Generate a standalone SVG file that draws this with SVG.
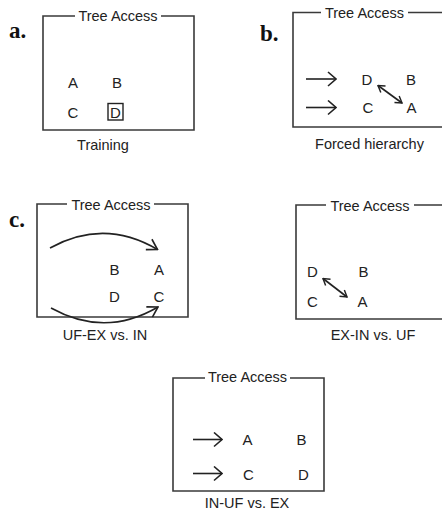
<svg xmlns="http://www.w3.org/2000/svg" width="442" height="516" viewBox="0 0 442 516">
<defs>
<style>
.frame{fill:none;stroke:#3a3a3a;stroke-width:1.6}
.conn{fill:none;stroke:#222;stroke-width:1.6}
.title{font-family:"Liberation Sans",Arial,sans-serif;font-size:14.5px;fill:#222;text-anchor:middle}
.lab{font-family:"Liberation Sans",Arial,sans-serif;font-size:15px;fill:#222;text-anchor:middle}
.cap{font-family:"Liberation Sans",Arial,sans-serif;font-size:14.5px;fill:#222;text-anchor:middle}
.pl{font-family:"Liberation Serif","Times New Roman",serif;font-size:23px;font-weight:bold;fill:#111}
</style>
<marker id="big" viewBox="0 0 10 16" refX="9" refY="8" markerWidth="10" markerHeight="16" markerUnits="userSpaceOnUse" orient="auto">
<path d="M1,1 L9,8 L1,15" fill="none" stroke="#222" stroke-width="1.6"/>
</marker>
<marker id="sm" viewBox="0 0 10 12" refX="9" refY="6" markerWidth="8" markerHeight="10" markerUnits="userSpaceOnUse" orient="auto-start-reverse">
<path d="M1,1 L9,6 L1,11" fill="none" stroke="#222" stroke-width="1.8"/>
</marker>
<marker id="arc" viewBox="0 0 12 14" refX="11" refY="7" markerWidth="12" markerHeight="14" markerUnits="userSpaceOnUse" orient="auto">
<path d="M1,1 L11,7 L1,13" fill="none" stroke="#222" stroke-width="1.6"/>
</marker>
</defs>
<rect width="442" height="516" fill="#fff"/>

<g id="panel-a">
<text class="pl" x="9" y="38">a.</text>
<path class="frame" d="M75,16 H43 V130 H194 V16 H161"/>
<text class="title" x="118" y="21">Tree Access</text>
<text class="lab" x="73" y="88">A</text>
<text class="lab" x="117" y="88">B</text>
<text class="lab" x="73" y="118">C</text>
<text class="lab" x="115.5" y="118">D</text>
<rect x="108" y="103.5" width="15" height="16.5" fill="none" stroke="#222" stroke-width="1.4"/>
<text class="cap" x="103" y="150">Training</text>
</g>

<g id="panel-b">
<text class="pl" x="260" y="41">b.</text>
<path class="frame" d="M321,12.5 H293 V127 H443 M408,12.5 H443"/>
<text class="title" x="364.5" y="17.5">Tree Access</text>
<text class="lab" x="367" y="85">D</text>
<text class="lab" x="411" y="85">B</text>
<text class="lab" x="368" y="113">C</text>
<text class="lab" x="411.5" y="113">A</text>
<text class="cap" x="369.5" y="149">Forced hierarchy</text>
</g>

<g id="panel-c-left">
<text class="pl" x="9" y="227">c.</text>
<path class="frame" d="M67,204 H37 V317 H188 V204 H154"/>
<text class="title" x="111" y="209.5">Tree Access</text>
<text class="lab" x="114.5" y="274.5">B</text>
<text class="lab" x="159" y="274.5">A</text>
<text class="lab" x="114.5" y="302">D</text>
<text class="lab" x="159" y="302">C</text>
<text class="cap" x="105" y="339.5">UF-EX vs. IN</text>
</g>

<g id="panel-c-right">
<path class="frame" d="M326,205 H296 V319 H443 M414,205 H443"/>
<text class="title" x="370" y="211">Tree Access</text>
<text class="lab" x="312.5" y="277">D</text>
<text class="lab" x="363.5" y="277">B</text>
<text class="lab" x="312.5" y="307">C</text>
<text class="lab" x="362.5" y="307">A</text>
<text class="cap" x="373" y="339.5">EX-IN vs. UF</text>
</g>

<g id="panel-bottom">
<path class="frame" d="M205,378 H173 V491 H324 V378 H290"/>
<text class="title" x="247.5" y="382">Tree Access</text>
<text class="lab" x="247.5" y="444.5">A</text>
<text class="lab" x="301.5" y="444.5">B</text>
<text class="lab" x="248.5" y="479.5">C</text>
<text class="lab" x="303.5" y="479.5">D</text>
<text class="cap" x="247" y="507.5">IN-UF vs. EX</text>
</g>

<g id="connectors">
<path class="conn" d="M306,79 H336" marker-end="url(#big)"/>
<path class="conn" d="M306,107.5 H336" marker-end="url(#big)"/>
<path class="conn" d="M378,85.5 L402,103" marker-start="url(#sm)" marker-end="url(#sm)"/>
<path class="conn" d="M50,248 Q104,218 157.5,249.5" marker-end="url(#arc)"/>
<path class="conn" d="M51,308 Q105,338 158,307" marker-end="url(#arc)"/>
<path class="conn" d="M323,278.5 L347,297" marker-start="url(#sm)" marker-end="url(#sm)"/>
<path class="conn" d="M193,439.5 H222" marker-end="url(#big)"/>
<path class="conn" d="M193,473.5 H222" marker-end="url(#big)"/>
</g>
</svg>
